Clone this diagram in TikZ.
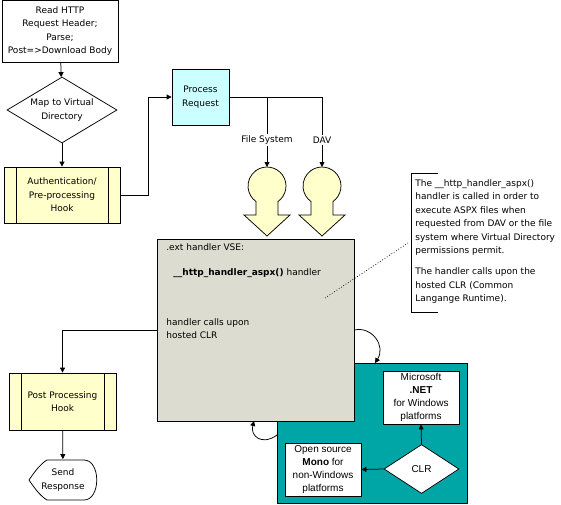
\documentclass[tikz,border=0pt]{standalone}
\usepackage{fontspec}
\setmainfont{DejaVu Sans}
\newfontfamily\arialfont{Liberation Sans}
\usetikzlibrary{shapes.geometric,arrows.meta}

\definecolor{hookyellow}{RGB}{255,255,204}
\definecolor{procblue}{RGB}{204,255,255}
\definecolor{vsegray}{RGB}{220,220,208}
\definecolor{clrteal}{RGB}{0,166,166}

\tikzset{every picture/.style={line width=0.75pt}}
\tikzset{
  txt/.style={font=\fontsize{9}{13.5}\selectfont, align=center, inner sep=0pt},
  flowbox/.style={draw, txt},
  hookbox/.style={flowbox, fill=hookyellow, path picture={
      \draw ([xshift=12pt]path picture bounding box.north west) -- ([xshift=12pt]path picture bounding box.south west);
      \draw ([xshift=-12pt]path picture bounding box.north east) -- ([xshift=-12pt]path picture bounding box.south east);}},
  clrtxt/.style={draw, fill=white, font=\arialfont\fontsize{10}{13}\selectfont, align=center, inner sep=0pt},
  arr/.style={-{Triangle[length=5pt,width=5pt]}},
}

\begin{document}
\begin{tikzpicture}[x=1pt,y=1pt,yscale=-1,xscale=1]
\useasboundingbox (0,0) rectangle (561,504);

% left column
\node[flowbox, fill=white, minimum width=116, minimum height=62] (read) at (60,31) {Read HTTP\\Request Header;\\Parse;\\Post=>Download Body};
\node[flowbox, fill=white, diamond, shape aspect=1.667, minimum width=110, minimum height=66] (map) at (62,110) {Map to Virtual\\Directory};
\node[hookbox, minimum width=116, minimum height=56] (auth) at (62,195) {Authentication/\\Pre-processing\\Hook};
\node[flowbox, fill=procblue, minimum width=57, minimum height=56] (proc) at (200.5,97) {Process\\Request};

\draw[arr] (read) -- (map);
\draw[arr] (map) -- (auth);
\draw[arr] (auth.east) -- ++(28,0) |- (proc.west);

% file system / DAV branches
\node[txt, fill=white, inner sep=1pt] (fs) at (267,140) {File System};
\node[txt, fill=white, inner sep=1pt] (dav) at (322,140) {DAV};
\draw (proc.east) -| (dav.north);
\draw (fs.north |- proc.east) -- (fs.north);

\foreach \kx/\kn in {267/fsin,322/davin}{
  \draw[fill=hookyellow] (\kx-11,201.5) -- (\kx-11,215) -- (\kx-23,215) -- (\kx,236) -- (\kx+23,215) -- (\kx+11,215) -- (\kx+11,201.5) arc[start angle=54.6,end angle=-234.6,radius=19] -- cycle;
  \coordinate (\kn) at (\kx,167);
}
\draw[arr] (fs.south) -- (fsin);
\draw[arr] (dav.south) -- (davin);

% CLR container
\node[draw, fill=clrteal, minimum width=190, minimum height=140] (clrbox) at (372,433) {};
\node[clrtxt, minimum width=76, minimum height=53] (net) at (421,397.5) {Microsoft\\\textbf{.NET}\\for Windows\\platforms};
\node[clrtxt, minimum width=76, minimum height=53] (mono) at (323,469.5) {Open source\\\textbf{Mono} for\\non-Windows\\platforms};
\node[clrtxt, diamond, minimum width=75, minimum height=49] (clr) at (421.5,469) {CLR};
\draw[arr] (clr.north) -- (net.south);
\draw[arr] (clr.west) -- (mono.east);

% handler box
\node[draw, fill=vsegray, minimum width=197, minimum height=182] (vse) at (255.5,330) {};
\node[txt, anchor=west] (vsetitle) at (166,247) {.ext handler VSE:};
\node[txt, anchor=west] (vsename) at (173,273) {\textbf{\_\_http\_handler\_aspx()} handler};
\node[txt, anchor=north west, align=left] (vsecalls) at (166,318) {handler calls upon\\hosted CLR};

\coordinate (loopin) at (375,363);
\coordinate (loopout) at (277,435);
\coordinate (loopback) at (254,421);
\draw[arr] (vse.east) .. controls (372,326) and (386,346) .. (loopin);
\draw[arr] (loopout) .. controls (262,446) and (250,436) .. (loopback);

% note
\coordinate (notetip) at (408,243);
\coordinate (vsepoint) at (325,298);
\draw[dotted] (vsepoint) -- (notetip);
\draw (438,173) -- (411,173) -- (411,312) -- (438,312);
\node[txt, anchor=north west, align=left] (note) at (415,179) {The \_\_http\_handler\_aspx()\\handler is called in order to\\execute ASPX files when\\requested from DAV or the file\\system where Virtual Directory\\permissions permit.\\[7.5pt]The handler calls upon the\\hosted CLR (Common\\Langange Runtime).};

% post processing
\node[hookbox, minimum width=107, minimum height=57] (post) at (62.5,401.5) {Post Processing\\Hook};
\node[txt, minimum width=67, minimum height=41] (send) at (63,480) {Send\\Response};
\draw (47,460) -- (84,460) .. controls (101,460) and (101,500) .. (84,500) -- (47,500) .. controls (40,496) and (33,486) .. (29,480) .. controls (33,474) and (40,464) .. (47,460) -- cycle;

\draw[arr] (vse.west) -| (post.north);
\draw[arr] (post) -- (send);

\end{tikzpicture}
\end{document}
